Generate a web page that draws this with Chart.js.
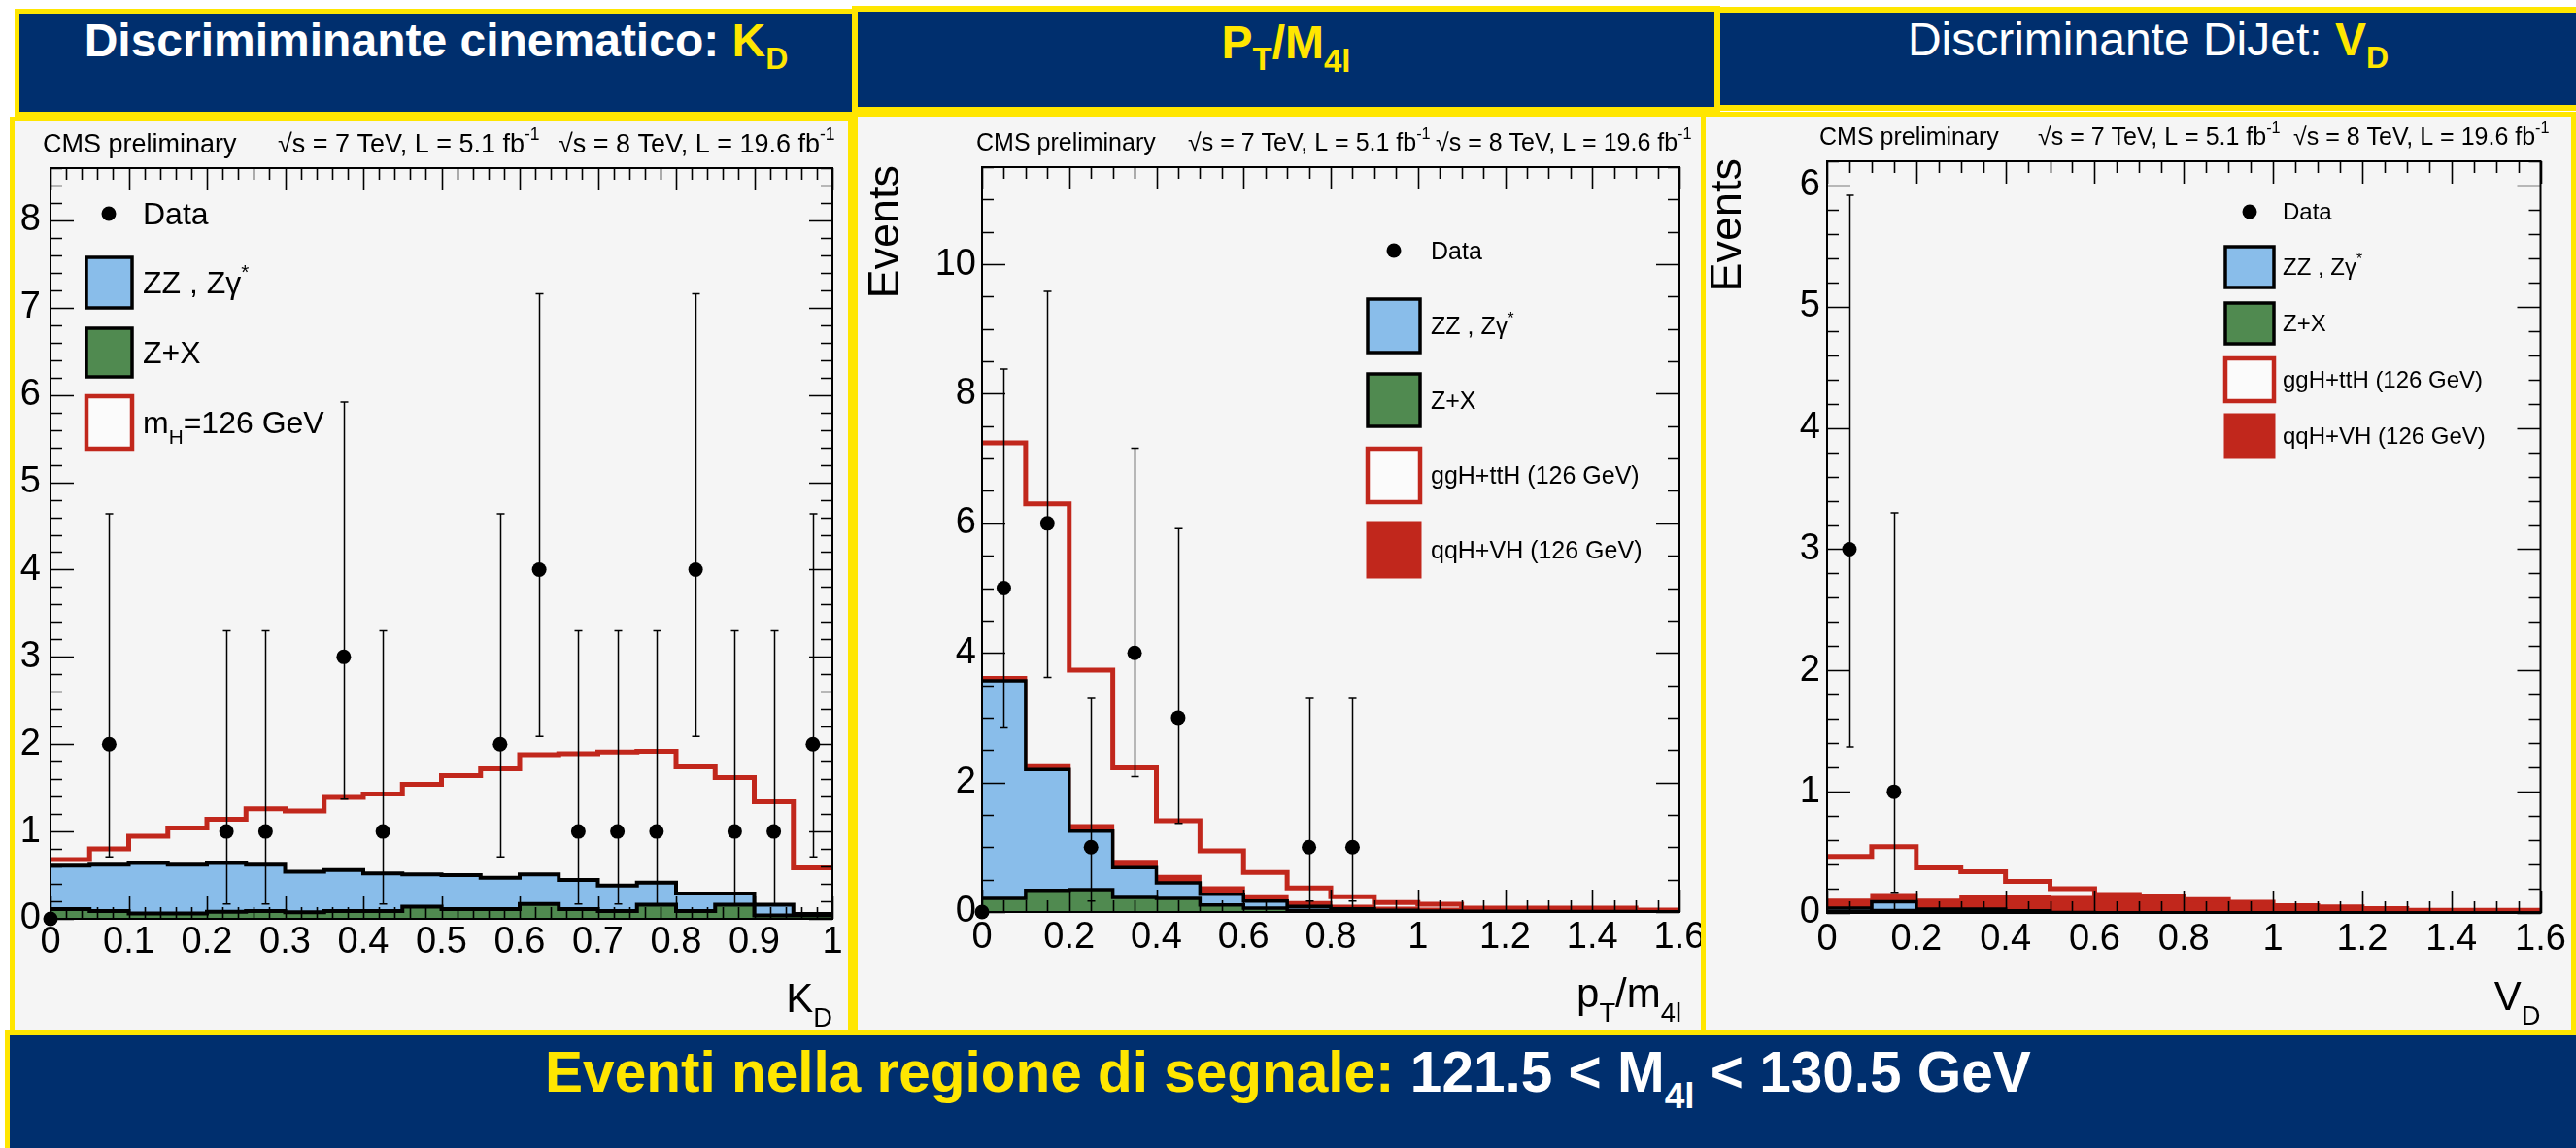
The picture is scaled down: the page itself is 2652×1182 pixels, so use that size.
<!DOCTYPE html>
<html>
<head>
<meta charset="utf-8">
<title>H → ZZ → 4l: distribuzioni nella regione di segnale</title>
<script src="https://cdn.jsdelivr.net/npm/chart.js@4.4.1/dist/chart.umd.min.js"></script>
<style>
  html, body { margin: 0; padding: 0; background: #fff; width: 2652px; height: 1182px; overflow: hidden;
    font-family: 'Liberation Sans', Arial, Helvetica, sans-serif; }
  .box { position: absolute; box-sizing: border-box; border: 5px solid #ffe600; }
  .blue { background: #002f6e; }
  .panel { background: #f5f5f5; }
  .txt { position: absolute; text-align: center; white-space: nowrap; }
  .sub { line-height: 0; }
  canvas { position: absolute; }
</style>
</head>
<body>
<!-- plot panels -->
<div class="box panel" style="left:10px;top:120px;width:868px;height:945px"></div>
<div class="box panel" style="left:878px;top:115px;width:878px;height:950px"></div>
<div class="box panel" style="left:1751px;top:115px;width:901px;height:950px"></div>

<!-- header boxes -->
<div class="box blue" style="left:15px;top:9px;width:868px;height:111px"></div>
<div class="box blue" style="left:877px;top:6px;width:894px;height:110px;border-width:6px"></div>
<div class="box blue" style="left:1765px;top:7px;width:900px;height:107px;border-width:6px"></div>
<div class="box blue" style="left:5px;top:1060px;width:2660px;height:140px;border-width:6px 0 0 5px"></div>

<div class="txt" style="left:20px;width:858px;top:18px;font:bold 48px/48px 'Liberation Sans',Arial,sans-serif;color:#fff">Discrimiminante cinematico: <span style="color:#ffe600">K<span class="sub" style="font-size:32px;vertical-align:-13px">D</span></span></div>
<div class="txt" style="left:883px;width:882px;top:20px;font:bold 48px/48px 'Liberation Sans',Arial,sans-serif;color:#ffe600">P<span class="sub" style="font-size:33px;vertical-align:-12px">T</span>/M<span class="sub" style="font-size:33px;vertical-align:-14px">4l</span></div>
<div class="txt" style="left:1771px;width:881px;top:17px;font:48px/48px 'Liberation Sans',Arial,sans-serif;color:#fff">Discriminante DiJet: <b style="color:#ffe600">V<span class="sub" style="font-size:32px;vertical-align:-13px">D</span></b></div>
<div class="txt" style="left:0;width:2652px;top:1075px;font:bold 58.5px/58.5px 'Liberation Sans',Arial,sans-serif;color:#ffe600">Eventi nella regione di segnale: <span style="color:#fff">121.5 &lt; M<span class="sub" style="font-size:37px;vertical-align:-17px">4l</span> &lt; 130.5 GeV</span></div>

<canvas id="c1" width="858" height="934" style="left:15px;top:125px"></canvas>
<canvas id="c2" width="868" height="939" style="left:883px;top:120px"></canvas>
<canvas id="c3" width="887" height="939" style="left:1756px;top:120px"></canvas>

<script>
// ---------------- K_D distribution (bin width 0.05) ----------------
const kdEdges = [0, 0.05, 0.1, 0.15, 0.2, 0.25, 0.3, 0.35, 0.4, 0.45, 0.5, 0.55, 0.6, 0.65, 0.7, 0.75, 0.8, 0.85, 0.9, 0.95, 1];
const kdZX  = [0.11, 0.09, 0.06, 0.06, 0.08, 0.09, 0.075, 0.09, 0.09, 0.14, 0.11, 0.11, 0.17, 0.11, 0.09, 0.16, 0.09, 0.16, 0.04, 0.04];
const kdZZ  = [0.50, 0.53, 0.58, 0.56, 0.56, 0.53, 0.465, 0.47, 0.43, 0.37, 0.39, 0.36, 0.34, 0.335, 0.29, 0.255, 0.20, 0.13, 0.12, 0.015];
const kdSig = [0.07, 0.18, 0.305, 0.42, 0.50, 0.64, 0.695, 0.83, 0.91, 1.03, 1.14, 1.25, 1.37, 1.445, 1.53, 1.505, 1.45, 1.33, 1.18, 0.53];
const kdDataX  = [0, 0.075, 0.225, 0.275, 0.375, 0.425, 0.575, 0.625, 0.675, 0.725, 0.775, 0.825, 0.875, 0.925, 0.975];
const kdDataY  = [0, 2, 1, 1, 3, 1, 2, 4, 1, 1, 1, 4, 1, 1, 2];
const kdDataLo = [0, 0.71, 0.17, 0.17, 1.37, 0.17, 0.71, 2.09, 0.17, 0.17, 0.17, 2.09, 0.17, 0.17, 0.71];
const kdDataHi = [0, 4.64, 3.30, 3.30, 5.92, 3.30, 4.64, 7.16, 3.30, 3.30, 3.30, 7.16, 3.30, 3.30, 4.64];
const kdXTicks = [0, 0.1, 0.2, 0.3, 0.4, 0.5, 0.6, 0.7, 0.8, 0.9, 1];
const kdXLabels = ['0', '0.1', '0.2', '0.3', '0.4', '0.5', '0.6', '0.7', '0.8', '0.9', '1'];
const kdYTicks = [0, 1, 2, 3, 4, 5, 6, 7, 8];
const kdYLabels = ['0', '1', '2', '3', '4', '5', '6', '7', '8'];

// ---------------- pT/m4l distribution (bin width 0.1) ----------------
const ptEdges = [0, 0.1, 0.2, 0.3, 0.4, 0.5, 0.6, 0.7, 0.8, 0.9, 1.0, 1.1, 1.2, 1.3, 1.4, 1.5, 1.6];
const ptZX  = [0.21, 0.335, 0.345, 0.225, 0.21, 0.11, 0.06, 0.025, 0.012, 0.008, 0.005, 0.004, 0.003, 0.002, 0.002, 0.002];
const ptZZ  = [3.36, 1.865, 0.905, 0.46, 0.24, 0.165, 0.11, 0.06, 0.038, 0.017, 0.01, 0.008, 0.007, 0.006, 0.004, 0.003];
const ptQQH = [0.05, 0.06, 0.085, 0.10, 0.10, 0.10, 0.08, 0.06, 0.04, 0.035, 0.03, 0.023, 0.025, 0.027, 0.029, 0.02];
const ptGGH = [3.62, 4.04, 2.40, 1.44, 0.86, 0.57, 0.36, 0.225, 0.145, 0.085, 0.075, 0.025, 0.025, 0.025, 0.025, 0.005];
const ptDataX  = [0, 0.05, 0.15, 0.25, 0.35, 0.45, 0.75, 0.85];
const ptDataY  = [0, 5, 6, 1, 4, 3, 1, 1];
const ptDataLo = [0, 2.84, 3.62, 0.17, 2.09, 1.37, 0.17, 0.17];
const ptDataHi = [0, 8.38, 9.58, 3.30, 7.16, 5.92, 3.30, 3.30];
const ptXTicks = [0, 0.2, 0.4, 0.6, 0.8, 1, 1.2, 1.4, 1.6];
const ptXLabels = ['0', '0.2', '0.4', '0.6', '0.8', '1', '1.2', '1.4', '1.6'];
const ptYTicks = [0, 2, 4, 6, 8, 10];
const ptYLabels = ['0', '2', '4', '6', '8', '10'];

// ---------------- V_D distribution (bin width 0.1) ----------------
const vdEdges = [0, 0.1, 0.2, 0.3, 0.4, 0.5, 0.6, 0.7, 0.8, 0.9, 1.0, 1.1, 1.2, 1.3, 1.4, 1.5, 1.6];
const vdZX  = [0.013, 0.02, 0.01, 0.01, 0.005, 0.002, 0.002, 0.001, 0.001, 0.001, 0.001, 0.001, 0.001, 0.001, 0.001, 0.001];
const vdZZ  = [0.027, 0.073, 0.022, 0.022, 0.014, 0.002, 0.001, 0.001, 0.001, 0.001, 0.001, 0.001, 0, 0, 0, 0];
const vdQQH = [0.067, 0.059, 0.075, 0.107, 0.12, 0.124, 0.125, 0.137, 0.105, 0.083, 0.057, 0.046, 0.034, 0.02, 0.02, 0.02];
const vdGGH = [0.36, 0.395, 0.266, 0.202, 0.122, 0.072, 0.024, 0.001, 0.003, 0.003, 0.002, 0.002, 0.001, 0.001, 0.001, 0.001];
const vdDataX  = [0.05, 0.15];
const vdDataY  = [3, 1];
const vdDataLo = [1.37, 0.17];
const vdDataHi = [5.92, 3.30];
const vdXTicks = [0, 0.2, 0.4, 0.6, 0.8, 1, 1.2, 1.4, 1.6];
const vdXLabels = ['0', '0.2', '0.4', '0.6', '0.8', '1', '1.2', '1.4', '1.6'];
const vdYTicks = [0, 1, 2, 3, 4, 5, 6];
const vdYLabels = ['0', '1', '2', '3', '4', '5', '6'];

// legend texts and header line ( _{..} subscript, ^{..} superscript )
const legendKD = ['Data', 'ZZ , Zγ^{*}', 'Z+X', 'm_{H}=126 GeV'];
const legendHiggs = ['Data', 'ZZ , Zγ^{*}', 'Z+X', 'ggH+ttH (126 GeV)', 'qqH+VH (126 GeV)'];
const cmsLabel = 'CMS preliminary';
const lumi7 = '√s = 7 TeV, L = 5.1 fb^{-1}';
const lumi8 = '√s = 8 TeV, L = 19.6 fb^{-1}';

// colours
const C_BLUE = '#89bdea', C_GREEN = '#508a50', C_RED = '#c1271c', C_BLACK = '#000';
const FONT = "'Liberation Sans', Arial, Helvetica, sans-serif";

Chart.defaults.font.family = FONT;
Chart.defaults.color = '#000';

// ---------- helpers ----------
function stepPoints(edges, vals) {
  const pts = vals.map((v, i) => ({ x: edges[i], y: v }));
  pts.push({ x: edges[edges.length - 1], y: vals[vals.length - 1] });
  return pts;
}
function addUp(...series) {
  return series[0].map((_, i) => series.reduce((s, a) => s + a[i], 0));
}
function hist(label, edges, vals, opts) {
  return Object.assign({
    label, data: stepPoints(edges, vals), stepped: true, pointRadius: 0, tension: 0,
    borderJoinStyle: 'miter', borderCapStyle: 'butt'
  }, opts);
}
function dataSet(xs, ys) {
  return {
    label: 'Data', data: xs.map((x, i) => ({ x, y: ys[i] })), showLine: false,
    pointRadius: 7.5, pointBackgroundColor: C_BLACK, pointBorderWidth: 0, clip: false, order: 0
  };
}

// rich text: "_{..}" subscript, "^{..}" superscript
function parseRich(s) {
  const parts = [];
  const re = /([_^])\{([^}]*)\}/g;
  let last = 0, m;
  while ((m = re.exec(s))) {
    if (m.index > last) parts.push({ t: s.slice(last, m.index) });
    parts.push({ t: m[2], sub: m[1] === '_', sup: m[1] === '^' });
    last = re.lastIndex;
  }
  if (last < s.length) parts.push({ t: s.slice(last) });
  return parts;
}
function richWidth(ctx, parts, size) {
  let w = 0;
  for (const p of parts) {
    const fs = (p.sub || p.sup) ? size * 0.65 : size;
    ctx.font = fs + 'px ' + FONT;
    w += ctx.measureText(p.t).width;
  }
  return w;
}
function drawRich(ctx, s, x, y, size, align) {
  const parts = parseRich(s);
  if (align === 'right') x -= richWidth(ctx, parts, size);
  ctx.textBaseline = 'alphabetic';
  ctx.textAlign = 'left';
  for (const p of parts) {
    const fs = (p.sub || p.sup) ? size * 0.65 : size;
    ctx.font = fs + 'px ' + FONT;
    const dy = p.sub ? size * 0.35 : p.sup ? -size * 0.47 : 0;
    ctx.fillText(p.t, x, y + dy);
    x += ctx.measureText(p.t).width;
  }
}

// ---------- per-canvas decoration ----------
const panelStyle = {
  c1: {
    xMin: 0, xMax: 1, yMax: 8.6, xMajor: 0.1, xMinor: 0.02, yMajor: 1, yMinor: 0.2,
    err: { x: kdDataX, lo: kdDataLo, hi: kdDataHi },
    cms: { x: 29, y: 32, size: 27, e7: 271, e8: 560 },
    title: { text: 'K_{D}', y: 917, size: 42, dx: 0 },
    legend: { labels: legendKD, size: 32, markerX: 97, textX: 132, boxX: 74, boxW: 47,
      rows: [95, 166, 238, 310], boxH: [0, 52, 50, 54],
      kinds: ['marker', 'zz', 'zx', 'sigline'] }
  },
  c2: {
    xMin: 0, xMax: 1.6, yMax: 11.5, xMajor: 0.2, xMinor: 0.05, yMajor: 2, yMinor: 0.5,
    err: { x: ptDataX, lo: ptDataLo, hi: ptDataHi },
    cms: { x: 122, y: 35, size: 25, e7: 340, e8: 595 },
    title: { text: 'p_{T}/m_{4l}', y: 917, size: 42, dx: 2 },
    events: { x: 42, y: 50, size: 45 },
    legend: { labels: legendHiggs, size: 25, markerX: 552, textX: 590, boxX: 525, boxW: 54,
      rows: [138, 215.5, 292, 369.5, 446], boxH: [0, 55, 54, 55, 56],
      kinds: ['marker', 'zz', 'zx', 'sigline', 'sigfill'] }
  },
  c3: {
    xMin: 0, xMax: 1.6, yMax: 6.2, xMajor: 0.2, xMinor: 0.05, yMajor: 1, yMinor: 0.2,
    err: { x: vdDataX, lo: vdDataLo, hi: vdDataHi },
    cms: { x: 117, y: 29, size: 25, e7: 342, e8: 605 },
    title: { text: 'V_{D}', y: 920, size: 42, dx: 0 },
    events: { x: 36, y: 43, size: 45 },
    legend: { labels: legendHiggs, size: 24, markerX: 560, textX: 594, boxX: 535, boxW: 50,
      rows: [98, 155, 213, 271, 329], boxH: [0, 42, 42, 44, 44],
      kinds: ['marker', 'zz', 'zx', 'sigline', 'sigfill'] }
  }
};

function isMultiple(v, step) {
  const r = v / step;
  return Math.abs(r - Math.round(r)) < 1e-6;
}

const rootStyle = {
  id: 'rootStyle',
  afterDatasetsDraw(chart) {
    const st = panelStyle[chart.canvas.id];
    if (!st) return;
    const ctx = chart.ctx, a = chart.chartArea, xs = chart.scales.x, ys = chart.scales.y;
    ctx.save();
    // axis ticks on all four sides, pointing inwards
    ctx.strokeStyle = C_BLACK;
    ctx.lineWidth = 1.6;
    ctx.beginPath();
    const nx = Math.round((st.xMax - st.xMin) / st.xMinor);
    for (let i = 0; i <= nx; i++) {
      const v = st.xMin + i * st.xMinor;
      const len = isMultiple(v, st.xMajor) ? 23 : 12;
      const px = Math.round(xs.getPixelForValue(v)) + 0.5;
      ctx.moveTo(px, a.bottom); ctx.lineTo(px, a.bottom - len);
      ctx.moveTo(px, a.top); ctx.lineTo(px, a.top + len);
    }
    const ny = Math.round(st.yMax / st.yMinor);
    for (let i = 0; i <= ny; i++) {
      const v = i * st.yMinor;
      const len = isMultiple(v, st.yMajor) ? 24 : 12;
      const py = Math.round(ys.getPixelForValue(v)) + 0.5;
      ctx.moveTo(a.left, py); ctx.lineTo(a.left + len, py);
      ctx.moveTo(a.right, py); ctx.lineTo(a.right - len, py);
    }
    ctx.stroke();
    // frame
    ctx.lineWidth = 2;
    ctx.strokeRect(a.left, a.top, a.right - a.left, a.bottom - a.top);

    // asymmetric error bars of the data points
    const e = st.err;
    ctx.lineWidth = 1.5;
    ctx.beginPath();
    e.x.forEach((x, i) => {
      if (e.hi[i] <= e.lo[i]) return;
      const px = Math.round(xs.getPixelForValue(x)) + 0.5;
      const y0 = ys.getPixelForValue(e.lo[i]);
      const y1 = ys.getPixelForValue(e.hi[i]);
      ctx.moveTo(px, y0); ctx.lineTo(px, y1);
      ctx.moveTo(px - 4, y0); ctx.lineTo(px + 4, y0);
      ctx.moveTo(px - 4, y1); ctx.lineTo(px + 4, y1);
    });
    ctx.stroke();
    ctx.restore();
  },
  afterDraw(chart) {
    const st = panelStyle[chart.canvas.id];
    if (!st) return;
    const ctx = chart.ctx, a = chart.chartArea;
    ctx.save();
    ctx.fillStyle = C_BLACK;

    // experiment / luminosity line
    drawRich(ctx, cmsLabel, st.cms.x, st.cms.y, st.cms.size);
    drawRich(ctx, lumi7, st.cms.e7, st.cms.y, st.cms.size);
    drawRich(ctx, lumi8, st.cms.e8, st.cms.y, st.cms.size);

    // x-axis title, right aligned at the end of the axis
    drawRich(ctx, st.title.text, a.right + st.title.dx, st.title.y, st.title.size, 'right');

    // y-axis title
    if (st.events) {
      ctx.save();
      ctx.translate(st.events.x, st.events.y);
      ctx.rotate(-Math.PI / 2);
      ctx.font = st.events.size + 'px ' + FONT;
      ctx.textAlign = 'right';
      ctx.textBaseline = 'alphabetic';
      ctx.fillText('Events', 0, 0);
      ctx.restore();
    }

    // legend
    const L = st.legend;
    L.kinds.forEach((kind, i) => {
      const cy = L.rows[i];
      if (kind === 'marker') {
        ctx.fillStyle = C_BLACK;
        ctx.beginPath();
        ctx.arc(L.markerX, cy, 7.5, 0, Math.PI * 2);
        ctx.fill();
      } else {
        const h = L.boxH[i], x = L.boxX, y = cy - h / 2, w = L.boxW;
        if (kind === 'zz' || kind === 'zx') {
          ctx.fillStyle = kind === 'zz' ? C_BLUE : C_GREEN;
          ctx.fillRect(x, y, w, h);
          ctx.strokeStyle = C_BLACK; ctx.lineWidth = 3.5;
          ctx.strokeRect(x, y, w, h);
        } else if (kind === 'sigline') {
          ctx.fillStyle = '#fbfbfb';
          ctx.fillRect(x, y, w, h);
          ctx.strokeStyle = C_RED; ctx.lineWidth = 4.5;
          ctx.strokeRect(x, y, w, h);
        } else {
          ctx.fillStyle = C_RED;
          ctx.fillRect(x - 1.5, y - 1.5, w + 3, h + 3);
        }
      }
      ctx.fillStyle = C_BLACK;
      drawRich(ctx, L.labels[i], L.textX, cy + L.size * 0.35, L.size);
    });
    ctx.restore();
  }
};
Chart.register(rootStyle);

function makeChart(id, spec) {
  const st = panelStyle[id];
  return new Chart(document.getElementById(id), {
    type: 'line',
    data: { datasets: spec.datasets },
    options: {
      responsive: false, animation: false, devicePixelRatio: 1, events: [],
      layout: { padding: spec.pad },
      plugins: { legend: { display: false }, tooltip: { enabled: false }, title: { display: false } },
      scales: {
        x: {
          type: 'linear', min: st.xMin, max: st.xMax,
          grid: { display: false, drawTicks: false }, border: { display: false },
          ticks: { autoSkip: false, maxRotation: 0, minRotation: 0, padding: spec.xPad,
            font: { size: 38 }, color: '#000', callback: (v, i) => spec.xLabels[i] },
          afterBuildTicks: s => { s.ticks = spec.xTicks.map(v => ({ value: v })); },
          afterFit: s => { s.height = spec.xH; s.paddingLeft = 0; s.paddingRight = 0; }
        },
        y: {
          type: 'linear', min: 0, max: st.yMax,
          grid: { display: false, drawTicks: false }, border: { display: false },
          ticks: { autoSkip: false, padding: spec.yPad, includeBounds: false,
            font: { size: 38 }, color: '#000', callback: (v, i) => spec.yLabels[i] },
          afterBuildTicks: s => { s.ticks = spec.yTicks.map(v => ({ value: v })); },
          afterFit: s => { s.width = spec.yW; s.paddingTop = 0; s.paddingBottom = 0; }
        }
      }
    }
  });
}

// ---- K_D panel: stacked Z+X, ZZ and the 126 GeV signal on top ----
const kdBkg = addUp(kdZX, kdZZ);
const kdTot = addUp(kdZX, kdZZ, kdSig);
makeChart('c1', {
  pad: { left: 0, top: 48, right: 16, bottom: 0 }, xH: 113, yW: 37, xPad: 2, yPad: 10,
  xTicks: kdXTicks, xLabels: kdXLabels, yTicks: kdYTicks, yLabels: kdYLabels,
  datasets: [
    dataSet(kdDataX, kdDataY),
    hist('Z+X', kdEdges, kdZX, { backgroundColor: C_GREEN, borderColor: C_BLACK, borderWidth: 4, fill: 'origin', order: 1 }),
    hist('ZZ , Zγ*', kdEdges, kdBkg, { backgroundColor: C_BLUE, borderColor: C_BLACK, borderWidth: 4, fill: 'origin', order: 2 }),
    hist('mH=126 GeV', kdEdges, kdTot, { borderColor: C_RED, borderWidth: 5, fill: false, order: 4 })
  ]
});

// ---- pT/m4l panel ----
const ptBkg = addUp(ptZX, ptZZ);
const ptQ = addUp(ptZX, ptZZ, ptQQH);
const ptTot = addUp(ptZX, ptZZ, ptQQH, ptGGH);
makeChart('c2', {
  pad: { left: 0, top: 52, right: 22, bottom: 0 }, xH: 120, yW: 128, xPad: 4, yPad: 6,
  xTicks: ptXTicks, xLabels: ptXLabels, yTicks: ptYTicks, yLabels: ptYLabels,
  datasets: [
    dataSet(ptDataX, ptDataY),
    hist('Z+X', ptEdges, ptZX, { backgroundColor: C_GREEN, borderColor: C_BLACK, borderWidth: 3.5, fill: 'origin', order: 1 }),
    hist('ZZ , Zγ*', ptEdges, ptBkg, { backgroundColor: C_BLUE, borderColor: C_BLACK, borderWidth: 3.5, fill: 'origin', order: 2 }),
    hist('qqH+VH (126 GeV)', ptEdges, ptQ, { backgroundColor: C_RED, borderColor: C_RED, borderWidth: 3, fill: 'origin', order: 3 }),
    hist('ggH+ttH (126 GeV)', ptEdges, ptTot, { borderColor: C_RED, borderWidth: 5, fill: false, order: 4 })
  ]
});

// ---- V_D panel ----
const vdBkg = addUp(vdZX, vdZZ);
const vdQ = addUp(vdZX, vdZZ, vdQQH);
const vdTot = addUp(vdZX, vdZZ, vdQQH, vdGGH);
makeChart('c3', {
  pad: { left: 0, top: 46, right: 27.5, bottom: 0 }, xH: 119, yW: 125, xPad: 5, yPad: 7,
  xTicks: vdXTicks, xLabels: vdXLabels, yTicks: vdYTicks, yLabels: vdYLabels,
  datasets: [
    dataSet(vdDataX, vdDataY),
    hist('Z+X', vdEdges, vdZX, { backgroundColor: C_GREEN, borderColor: C_BLACK, borderWidth: 3.5, fill: 'origin', order: 1 }),
    hist('ZZ , Zγ*', vdEdges, vdBkg, { backgroundColor: C_BLUE, borderColor: C_BLACK, borderWidth: 3.5, fill: 'origin', order: 2 }),
    hist('qqH+VH (126 GeV)', vdEdges, vdQ, { backgroundColor: C_RED, borderColor: C_RED, borderWidth: 3, fill: 'origin', order: 3 }),
    hist('ggH+ttH (126 GeV)', vdEdges, vdTot, { borderColor: C_RED, borderWidth: 5, fill: false, order: 4 })
  ]
});
</script>
</body>
</html>
